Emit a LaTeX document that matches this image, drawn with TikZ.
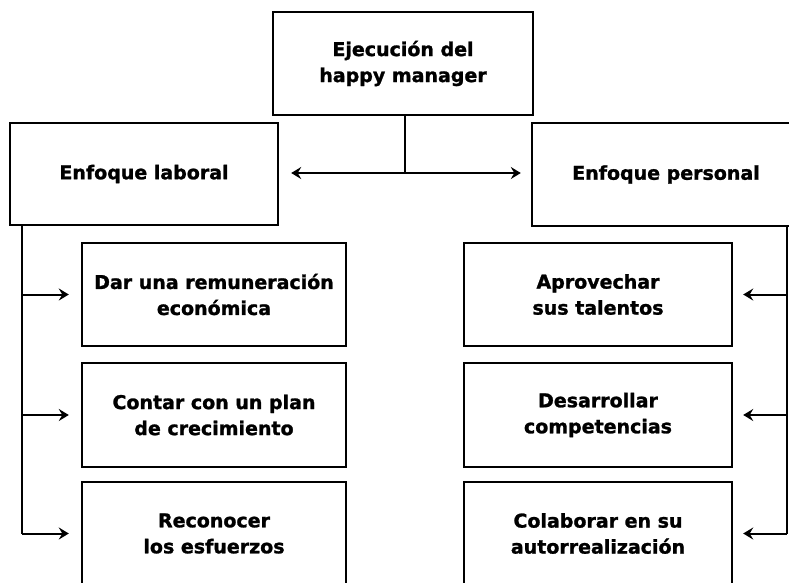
\documentclass[tikz,border=0pt]{standalone}
\usepackage{fontspec}
\setmainfont{DejaVu Sans}[BoldFeatures={FakeBold=1.3}]
\usetikzlibrary{arrows.meta}
\tikzset{
  box/.style={draw=black, line width=2.4pt, fill=white, inner sep=0pt, align=center,
    font=\fontsize{19}{26}\selectfont\bfseries},
  conn/.style={draw=black, line width=2pt},
  tip/.tip={Stealth[length=10pt,width=12pt,inset=3.5pt]},
  arr/.style={conn, -tip},
  darr/.style={conn, tip-tip}
}
\begin{document}
\begin{tikzpicture}[x=1pt,y=-1pt]
\useasboundingbox (0,0) rectangle (789,582);
\fill[white] (0,0) rectangle (789,582);
% top
\node[box, minimum width=260pt, minimum height=103pt] (top) at (403,63.5) {Ejecución del\\happy manager};
% level 2
\node[box, minimum width=268pt, minimum height=102pt] (lbox) at (144,174) {Enfoque laboral};
\node[box, minimum width=268pt, minimum height=103pt] (rbox) at (666,174.5) {Enfoque personal};
% left children
\node[box, minimum width=264pt, minimum height=103pt] (l1) at (214,294.5) {Dar una remuneración\\económica};
\node[box, minimum width=264pt, minimum height=104pt] (l2) at (214,415) {Contar con un plan\\de crecimiento};
\node[box, minimum width=264pt, minimum height=103pt] (l3) at (214,533.5) {Reconocer\\los esfuerzos};
% right children
\node[box, minimum width=268pt, minimum height=103pt] (r1) at (598,294.5) {Aprovechar\\sus talentos};
\node[box, minimum width=268pt, minimum height=104pt] (r2) at (598,415) {Desarrollar\\competencias};
\node[box, minimum width=268pt, minimum height=103pt] (r3) at (598,533.5) {Colaborar en su\\autorrealización};
% junction
\coordinate (j) at (405,173);
\draw[conn] (j |- top.south) -- (j);
\draw[darr] ([xshift=12pt]lbox.east |- j) -- ([xshift=-10pt]rbox.west |- j);
% left spine
\coordinate (lv) at (22,533.5);
\draw[conn] (lv |- lbox.south) -- (lv);
\draw[arr] (lv |- l1.west) -- ([xshift=-12pt]l1.west);
\draw[arr] (lv |- l2.west) -- ([xshift=-12pt]l2.west);
\draw[arr] (lv) -- ([xshift=-12pt]l3.west);
% right spine
\coordinate (rv) at (787,533.5);
\draw[conn] (rv |- rbox.south) -- (rv);
\draw[arr] (rv |- r1.east) -- ([xshift=10pt]r1.east);
\draw[arr] (rv |- r2.east) -- ([xshift=10pt]r2.east);
\draw[arr] (rv) -- ([xshift=10pt]r3.east);
\end{tikzpicture}
\end{document}
